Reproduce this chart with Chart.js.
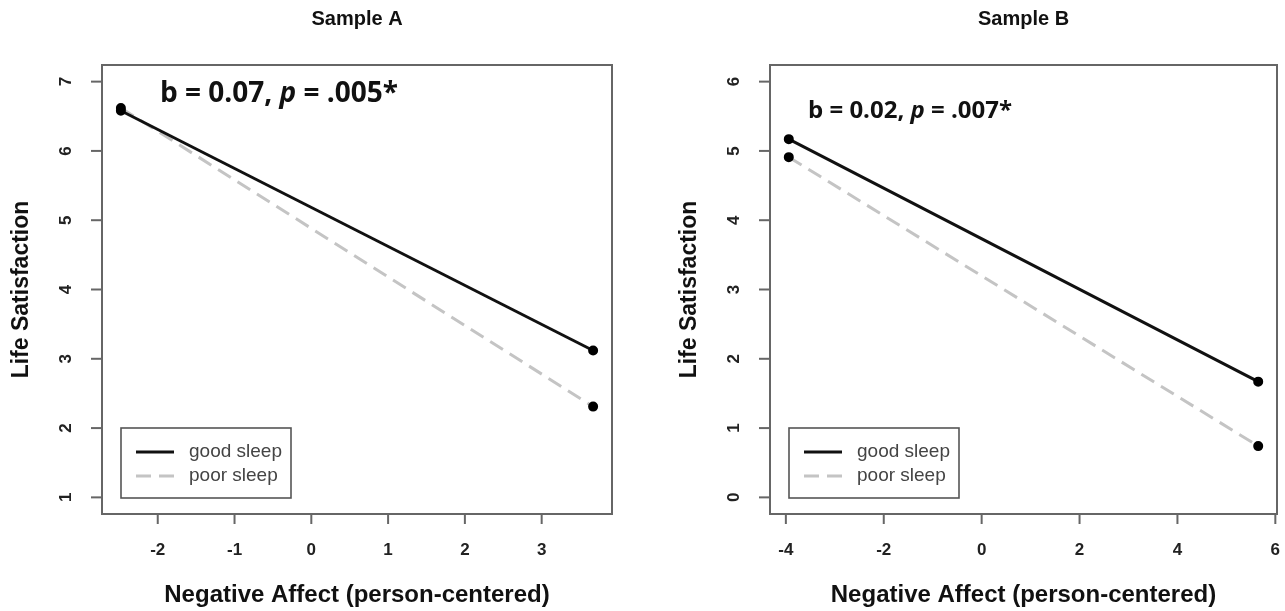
<!DOCTYPE html>
<html>
<head>
<meta charset="utf-8">
<script src="https://cdn.jsdelivr.net/npm/chart.js@4/dist/chart.umd.min.js"></script>
<style>
  body { margin: 0; background: #fff; }
  #wrap { position: relative; width: 1285px; height: 611px; }
  canvas { position: absolute; top: 0; }
  #chartA { left: 0; }
  #chartB { left: 642px; }
</style>
</head>
<body>
<div id="wrap">
  <canvas id="chartA" width="642" height="611"></canvas>
  <canvas id="chartB" width="643" height="611"></canvas>
</div>
<script>
// Sample A
const xA = [-2.48, 3.67];
const goodA = [6.58, 3.12];
const poorA = [6.62, 2.31];
const xTicksA = [-2, -1, 0, 1, 2, 3];
const yTicksA = [1, 2, 3, 4, 5, 6, 7];

// Sample B
const xB = [-3.94, 5.65];
const goodB = [5.17, 1.67];
const poorB = [4.91, 0.74];
const xTicksB = [-4, -2, 0, 2, 4, 6];
const yTicksB = [0, 1, 2, 3, 4, 5, 6];

const seriesNames = ["good sleep", "poor sleep"];

function pts(xs, ys) {
    return xs.map((x, i) => ({ x: x, y: ys[i] }));
}

// draws the R-style frame, ticks, titles, note and legend
const panelPlugin = {
    id: "panel",
    afterDraw(chart, args, opts) {
        const ctx = chart.ctx;
        const a = chart.chartArea;
        const xs = chart.scales.x, ys = chart.scales.y;
        ctx.save();

        // frame
        ctx.strokeStyle = "#666";
        ctx.lineWidth = 2;
        ctx.strokeRect(a.left, a.top, a.right - a.left, a.bottom - a.top);

        // x ticks
        ctx.fillStyle = "#222";
        ctx.font = "bold 17px 'Liberation Sans', Arial, sans-serif";
        ctx.textAlign = "center";
        ctx.textBaseline = "middle";
        opts.xTicks.forEach(v => {
            const px = xs.getPixelForValue(v);
            ctx.beginPath();
            ctx.moveTo(px, a.bottom);
            ctx.lineTo(px, a.bottom + 10);
            ctx.stroke();
            ctx.fillText(String(v), px, a.bottom + 36);
        });

        // y ticks (rotated labels)
        opts.yTicks.forEach(v => {
            const py = ys.getPixelForValue(v);
            ctx.beginPath();
            ctx.moveTo(a.left, py);
            ctx.lineTo(a.left - 11, py);
            ctx.stroke();
            ctx.save();
            ctx.translate(a.left - 36, py);
            ctx.rotate(-Math.PI / 2);
            ctx.fillText(String(v), 0, 0);
            ctx.restore();
        });

        // titles
        const cx = (a.left + a.right) / 2;
        const cy = (a.top + a.bottom) / 2;
        ctx.fillStyle = "#111";
        ctx.font = "bold 20px 'Liberation Sans', Arial, sans-serif";
        ctx.fillText(opts.title, cx, 19);
        ctx.font = "bold 24px 'Liberation Sans', Arial, sans-serif";
        ctx.fillText("Negative Affect (person-centered)", cx, 595);
        ctx.font = "bold 23px 'Liberation Sans', Arial, sans-serif";
        ctx.save();
        ctx.translate(a.left - 80, cy);
        ctx.rotate(-Math.PI / 2);
        ctx.fillText("Life Satisfaction", 0, 0);
        ctx.restore();

        // note: b = ..., p = ...
        ctx.textAlign = "left";
        ctx.textBaseline = "alphabetic";
        let nx = opts.noteX;
        const parts = [
            ["bold", "b = " + opts.b + ", "],
            ["italic bold", "p"],
            ["bold", " = " + opts.p + "*"]
        ];
        parts.forEach(([st, t]) => {
            ctx.font = st + " " + opts.noteSize + "px 'Open Sans', sans-serif";
            ctx.fillText(t, nx, opts.noteY);
            nx += ctx.measureText(t).width;
        });

        // legend
        const lx = a.left + 19, ly = a.top + 363, lw = 170, lh = 70;
        ctx.strokeStyle = "#555";
        ctx.lineWidth = 1.6;
        ctx.strokeRect(lx, ly, lw, lh);
        ctx.font = "19px 'Liberation Sans', Arial, sans-serif";
        ctx.textBaseline = "middle";
        chart.data.datasets.forEach((ds, i) => {
            const yy = ly + 24 + i * 24;
            ctx.strokeStyle = ds.borderColor;
            ctx.lineWidth = ds.borderWidth;
            ctx.setLineDash(ds.borderDash || []);
            ctx.beginPath();
            ctx.moveTo(lx + 15, yy);
            ctx.lineTo(lx + 53, yy);
            ctx.stroke();
            ctx.setLineDash([]);
            ctx.fillStyle = "#444";
            ctx.fillText(ds.label, lx + 68, yy);
        });
        ctx.restore();
    }
};

function makeChart(id, xs, good, poor, xMin, xMax, yMin, yMax, pad, panel) {
    return new Chart(document.getElementById(id), {
        type: "line",
        data: {
            datasets: [{
                label: seriesNames[0],
                data: pts(xs, good),
                borderColor: "#111",
                borderWidth: 3,
                pointRadius: 3.5,
                pointBackgroundColor: "#000",
                pointBorderColor: "#000",
                tension: 0
            }, {
                label: seriesNames[1],
                data: pts(xs, poor),
                borderColor: "#c4c4c4",
                borderWidth: 3,
                borderDash: [15, 8],
                pointRadius: 3.5,
                pointBackgroundColor: "#000",
                pointBorderColor: "#000",
                tension: 0
            }]
        },
        options: {
            responsive: false,
            animation: false,
            layout: { padding: pad },
            plugins: {
                legend: { display: false },
                tooltip: { enabled: false },
                panel: panel
            },
            scales: {
                x: { type: "linear", min: xMin, max: xMax, display: false },
                y: { type: "linear", min: yMin, max: yMax, display: false }
            }
        },
        plugins: [panelPlugin]
    });
}

makeChart("chartA", xA, goodA, poorA, -2.726, 3.916, 0.76, 7.24,
    { left: 102, right: 30, top: 65, bottom: 97 },
    { title: "Sample A", xTicks: xTicksA, yTicks: yTicksA, b: "0.07", p: ".005",
      noteX: 160, noteY: 102, noteSize: 28 });

makeChart("chartB", xB, goodB, poorB, -4.324, 6.034, -0.24, 6.24,
    { left: 128, right: 8, top: 65, bottom: 97 },
    { title: "Sample B", xTicks: xTicksB, yTicks: yTicksB, b: "0.02", p: ".007",
      noteX: 166, noteY: 118, noteSize: 24 });
</script>
</body>
</html>
